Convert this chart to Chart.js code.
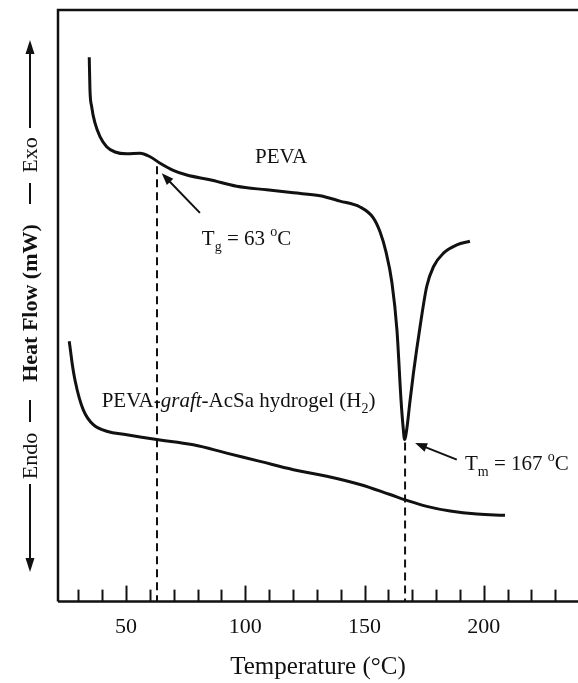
<!DOCTYPE html>
<html>
<head>
<meta charset="utf-8">
<title>DSC thermograms PEVA / H2</title>
<script src="https://cdn.jsdelivr.net/npm/chart.js@4.4.1/dist/chart.umd.min.js"></script>
<style>
  html, body { margin: 0; padding: 0; background: #fff; }
</style>
</head>
<body>
<canvas id="dscChart" width="578" height="683"></canvas>
<script>
//Data (heat flow has no printed scale, arbitrary units 0-10)
const pevaTemp = [34.6, 34.9, 35.6, 37.0, 39.1, 41.9, 45.4, 50.3, 55.9, 60.1, 64.3, 69.8, 75.5, 85.2, 96.4,
  109.0, 120.2, 131.4, 139.7, 148.1, 153.6, 156.5, 159.0, 161.5, 163.6, 165.3, 166.2, 166.8, 167.8, 168.9,
  170.5, 173.3, 176.1, 178.9, 183.1, 188.7, 194.2];
const pevaFlow = [9.20, 8.65, 8.37, 8.09, 7.86, 7.69, 7.60, 7.57, 7.58, 7.52, 7.41, 7.29, 7.21, 7.13, 7.02,
  6.96, 6.91, 6.86, 6.77, 6.67, 6.49, 6.25, 5.91, 5.39, 4.59, 3.41, 2.94, 2.74, 2.94, 3.33,
  3.86, 4.65, 5.33, 5.66, 5.89, 6.03, 6.09];

const h2Temp = [26.2, 28.6, 32.1, 36.3, 41.9, 50.3, 62.9, 78.2, 92.2, 106.2, 120.2, 134.2, 148.1, 160.7,
  167.0, 176.1, 185.9, 197.1, 208.9];
const h2Flow = [4.40, 3.75, 3.24, 2.99, 2.88, 2.82, 2.74, 2.65, 2.51, 2.37, 2.23, 2.12, 1.98, 1.81,
  1.72, 1.61, 1.53, 1.48, 1.46];

// Tg and Tm drop lines
const markerTemps = [63, 167];
const markerTops = [7.36, 2.69];

// x ticks every 10 degC, labelled every 50
const tickValues = [30, 40, 50, 60, 70, 80, 90, 100, 110, 120, 130, 140, 150, 160, 170, 180, 190, 200, 210, 220, 230];
const tickLabels = [50, 100, 150, 200];

const INK = '#111';
const SERIF = '"Liberation Serif", "Times New Roman", serif';

function toPoints(xs, ys) {
  return xs.map((x, i) => ({ x: x, y: ys[i] }));
}

// text with sub/superscripts, parts = [[text, kind]]
function drawRich(ctx, parts, x, y, size, align) {
  const fontFor = (kind) => {
    if (kind === 'sub' || kind === 'sup') return Math.round(size * 0.66) + 'px ' + SERIF;
    if (kind === 'i') return 'italic ' + size + 'px ' + SERIF;
    return size + 'px ' + SERIF;
  };
  let total = 0;
  parts.forEach(p => { ctx.font = fontFor(p[1]); total += ctx.measureText(p[0]).width; });
  let cx = align === 'center' ? x - total / 2 : x;
  ctx.textAlign = 'left';
  ctx.textBaseline = 'alphabetic';
  parts.forEach(p => {
    ctx.font = fontFor(p[1]);
    let dy = 0;
    if (p[1] === 'sub') dy = size * 0.28;
    if (p[1] === 'sup') dy = -size * 0.42;
    ctx.fillText(p[0], cx, y + dy);
    cx += ctx.measureText(p[0]).width;
  });
}

function drawArrow(ctx, x1, y1, x2, y2) {
  const a = Math.atan2(y2 - y1, x2 - x1);
  const len = 12, half = 4.5;
  ctx.beginPath();
  ctx.moveTo(x1, y1);
  ctx.lineTo(x2 - Math.cos(a) * len * 0.8, y2 - Math.sin(a) * len * 0.8);
  ctx.stroke();
  ctx.beginPath();
  ctx.moveTo(x2, y2);
  ctx.lineTo(x2 - Math.cos(a) * len - Math.sin(a) * half, y2 - Math.sin(a) * len + Math.cos(a) * half);
  ctx.lineTo(x2 - Math.cos(a) * len + Math.sin(a) * half, y2 - Math.sin(a) * len - Math.cos(a) * half);
  ctx.closePath();
  ctx.fill();
}

//Frame and inward ticks
const framePlugin = {
  id: 'frame',
  afterDatasetsDraw(chart) {
    const { ctx, chartArea: a, scales: { x } } = chart;
    ctx.save();
    ctx.strokeStyle = INK;
    ctx.lineWidth = 2.5;
    ctx.beginPath();
    ctx.moveTo(a.left, a.bottom);
    ctx.lineTo(a.left, a.top);
    ctx.lineTo(chart.width, a.top);
    ctx.moveTo(a.left, a.bottom);
    ctx.lineTo(chart.width, a.bottom);
    ctx.stroke();
    ctx.lineWidth = 2;
    tickValues.forEach(v => {
      const px = Math.round(x.getPixelForValue(v)) + 0.5;
      const h = tickLabels.includes(v) ? 16 : 12;
      ctx.beginPath();
      ctx.moveTo(px, a.bottom);
      ctx.lineTo(px, a.bottom - h);
      ctx.stroke();
    });
    ctx.restore();
  }
};

//Curve labels and arrows
const notesPlugin = {
  id: 'notes',
  afterDraw(chart) {
    const { ctx, scales: { x, y } } = chart;
    const X = v => x.getPixelForValue(v);
    const Y = v => y.getPixelForValue(v);
    ctx.save();
    ctx.fillStyle = INK;
    ctx.strokeStyle = INK;
    ctx.lineWidth = 2;
    drawRich(ctx, [['PEVA', '']], X(115), Y(7.42), 21, 'center');
    drawRich(ctx, [['T', ''], ['g', 'sub'], [' = 63 ', ''], ['o', 'sup'], ['C', '']], X(81.8), Y(6.03), 21, 'left');
    drawRich(ctx, [['T', ''], ['m', 'sub'], [' = 167 ', ''], ['o', 'sup'], ['C', '']], X(192.1), Y(2.23), 21, 'left');
    drawRich(ctx, [['PEVA-', ''], ['graft', 'i'], ['-AcSa hydrogel (H', ''], ['2', 'sub'], [')', '']], X(39.8), Y(3.29), 21, 'left');
    drawArrow(ctx, X(81.0), Y(6.57), X(65.0), Y(7.24));
    drawArrow(ctx, X(188.7), Y(2.40), X(171.2), Y(2.68));
    ctx.restore();
  }
};

//Y title: <-- Endo - Heat Flow (mW) - Exo -->
const yTitlePlugin = {
  id: 'yTitle',
  afterDraw(chart) {
    const ctx = chart.ctx;
    ctx.save();
    ctx.translate(30, 0);
    ctx.rotate(-Math.PI / 2);
    // in this frame u = -canvasY
    ctx.fillStyle = INK;
    ctx.strokeStyle = INK;
    ctx.lineWidth = 2;
    ctx.textAlign = 'center';
    ctx.textBaseline = 'middle';
    ctx.font = '22px ' + SERIF;
    ctx.fillText('Exo', -155, 1);
    ctx.fillText('Endo', -456, 1);
    ctx.font = 'bold 22px ' + SERIF;
    ctx.fillText('Heat Flow (mW)', -303, 1);
    const seg = (a, b) => { ctx.beginPath(); ctx.moveTo(-a, 0); ctx.lineTo(-b, 0); ctx.stroke(); };
    seg(183, 204);
    seg(400, 422);
    seg(48, 128);
    seg(484, 564);
    // arrow heads
    ctx.beginPath();
    ctx.moveTo(-40, 0); ctx.lineTo(-54, -4.5); ctx.lineTo(-54, 4.5); ctx.closePath(); ctx.fill();
    ctx.beginPath();
    ctx.moveTo(-572, 0); ctx.lineTo(-558, -4.5); ctx.lineTo(-558, 4.5); ctx.closePath(); ctx.fill();
    ctx.restore();
  }
};

//Chart JS
const ctx = document.getElementById('dscChart');

new Chart(ctx, {
  type: 'line',
  data: {
    datasets: [
      {
        label: 'PEVA',
        data: toPoints(pevaTemp, pevaFlow),
        borderColor: INK,
        borderWidth: 3,
        pointRadius: 0,
        cubicInterpolationMode: 'monotone'
      },
      {
        label: 'PEVA-graft-AcSa hydrogel (H2)',
        data: toPoints(h2Temp, h2Flow),
        borderColor: INK,
        borderWidth: 3,
        pointRadius: 0,
        tension: 0.4
      },
      {
        label: 'Tg',
        data: [{ x: markerTemps[0], y: markerTops[0] }, { x: markerTemps[0], y: 0 }],
        borderColor: INK,
        borderWidth: 2,
        borderDash: [8, 5],
        pointRadius: 0
      },
      {
        label: 'Tm',
        data: [{ x: markerTemps[1], y: markerTops[1] }, { x: markerTemps[1], y: 0 }],
        borderColor: INK,
        borderWidth: 2,
        borderDash: [8, 5],
        pointRadius: 0
      }
    ]
  },
  options: {
    responsive: false,
    animation: false,
    layout: { padding: { left: 58, top: 10, right: 0, bottom: 0 } },
    plugins: {
      legend: { display: false },
      tooltip: { enabled: false }
    },
    scales: {
      x: {
        type: 'linear',
        min: 21.5,
        max: 239.5,
        afterBuildTicks: (scale) => {
          scale.ticks = tickValues.map(v => ({ value: v }));
        },
        grid: { display: false, drawTicks: false },
        border: { display: false },
        ticks: {
          autoSkip: false,
          maxRotation: 0,
          padding: 12,
          color: INK,
          font: { family: SERIF, size: 22 },
          callback: (v) => tickLabels.includes(v) ? String(v) : ''
        },
        title: {
          display: true,
          text: 'Temperature (°C)',
          color: INK,
          font: { family: SERIF, size: 25 },
          padding: { top: 0, bottom: 1 }
        }
      },
      y: {
        display: false,
        min: 0,
        max: 10
      }
    }
  },
  plugins: [framePlugin, notesPlugin, yTitlePlugin]
});
</script>
</body>
</html>
